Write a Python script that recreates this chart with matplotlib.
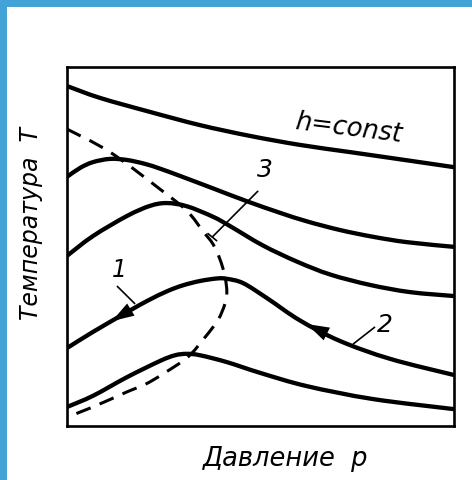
import matplotlib
matplotlib.use("Agg")
import numpy as np
import matplotlib.pyplot as plt
from matplotlib.patches import Rectangle, PathPatch
from matplotlib.path import Path

# Isenthalps (h = const) in the pressure-temperature plane, arbitrary units 0..10
p_h1 = [0, 0.85, 2.14, 3.44, 4.73, 6.02, 7.31, 8.60, 10.0]
T_h1 = [9.47, 9.14, 8.75, 8.38, 8.08, 7.83, 7.63, 7.43, 7.21]

p_h2 = [0, 0.34, 0.67, 1.11, 1.55, 2.02, 2.40, 2.91, 3.77, 4.65, 5.50, 6.20, 7.05, 7.91, 8.79, 10.0]
T_h2 = [6.94, 7.19, 7.35, 7.44, 7.41, 7.30, 7.17, 6.97, 6.62, 6.26, 5.94, 5.70, 5.46, 5.27, 5.12, 4.99]

p_h3 = [0, 0.67, 1.55, 2.14, 2.58, 3.10, 3.77, 4.21, 5.06, 5.94, 6.80, 7.83, 8.86, 10.0]
T_h3 = [4.74, 5.29, 5.85, 6.13, 6.21, 6.12, 5.83, 5.57, 5.03, 4.58, 4.22, 3.93, 3.73, 3.62]

p_h4 = [0, 0.67, 1.55, 2.10, 2.60, 3.00, 3.44, 3.88, 4.13, 4.55, 5.17, 6.02, 7.05, 8.35, 10.0]
T_h4 = [2.17, 2.62, 3.17, 3.50, 3.76, 3.92, 4.04, 4.11, 4.10, 3.98, 3.56, 2.94, 2.37, 1.87, 1.42]

p_h5 = [0, 0.67, 1.55, 2.40, 2.79, 3.10, 3.44, 4.13, 4.99, 6.20, 7.91, 10.0]
T_h5 = [0.53, 0.84, 1.36, 1.81, 1.97, 2.01, 1.97, 1.78, 1.48, 1.11, 0.75, 0.47]

# Inversion curve (dashed)
p_inv = [0, 1.11, 2.40, 3.10, 3.51, 3.77, 3.95, 4.08, 4.13, 4.08, 3.90, 3.55, 3.12, 2.48, 2.02, 1.55, 0.67, 0]
T_inv = [8.27, 7.63, 6.60, 5.99, 5.43, 5.07, 4.65, 4.18, 3.73, 3.40, 2.95, 2.45, 1.92, 1.45, 1.16, 0.95, 0.53, 0.25]

isenthalps = [(p_h1, T_h1), (p_h2, T_h2), (p_h3, T_h3), (p_h4, T_h4), (p_h5, T_h5)]

xlabel_text = "Давление  p"
ylabel_text = "Температура  T"
curve_label = "h=const"


def smooth_path(x, y):
    """Cubic Bezier path through the given points (Catmull-Rom tangents)."""
    pts = np.column_stack([x, y]).astype(float)
    n = len(pts)
    verts = [pts[0]]
    codes = [Path.MOVETO]
    for i in range(n - 1):
        p0 = pts[i - 1] if i > 0 else pts[i]
        p1, p2 = pts[i], pts[i + 1]
        p3 = pts[i + 2] if i + 2 < n else pts[i + 1]
        c1 = p1 + (p2 - p0) / 6.0
        c2 = p2 - (p3 - p1) / 6.0
        verts += [c1, c2, p2]
        codes += [Path.CURVE4] * 3
    return Path(verts, codes)


fig = plt.figure(figsize=(4.72, 4.81), dpi=100)
fig.patch.set_facecolor("white")

# blue border strips along the top and left edges
blue = "#44a3d6"
fig.add_artist(Rectangle((0, 1 - 8 / 481), 1, 8 / 481, transform=fig.transFigure,
                         facecolor=blue, edgecolor="none", zorder=0))
fig.add_artist(Rectangle((0, 0), 7 / 472, 1, transform=fig.transFigure,
                         facecolor=blue, edgecolor="none", zorder=0))

ax = fig.add_axes([67 / 472, 1 - 427 / 481, 387 / 472, 359 / 481])
ax.set_xlim(0, 10)
ax.set_ylim(0, 10)
ax.set_xticks([])
ax.set_yticks([])
for s in ax.spines.values():
    s.set_linewidth(1.9)
    s.set_color("black")

for p, T in isenthalps:
    ax.add_patch(PathPatch(smooth_path(p, T), facecolor="none", edgecolor="black",
                           lw=3.1, capstyle="butt", joinstyle="round"))

inv = PathPatch(smooth_path(p_inv, T_inv), facecolor="none", edgecolor="black",
                lw=2.2, capstyle="butt")
inv.set_linestyle((0, (5, 3.2)))
ax.add_patch(inv)

font = dict(family="DejaVu Sans", style="oblique", color="black")

ax.text(7.28, 8.32, curve_label, fontsize=18.5, rotation=-7, ha="center", va="center", **font)

# direction arrows on curve 4
arrow_kw = dict(arrowstyle="-|>,head_length=1.0,head_width=0.32", color="black",
                lw=0, shrinkA=0, shrinkB=0, mutation_scale=16)
ax.annotate("", xy=(1.16, 2.92), xytext=(1.63, 3.23), arrowprops=arrow_kw)
ax.annotate("", xy=(6.20, 2.84), xytext=(6.72, 2.56), arrowprops=arrow_kw)

# numbered callouts with leader lines
lead = dict(color="black", lw=1.2, solid_capstyle="butt")
ax.text(1.34, 4.37, "1", fontsize=17, ha="center", va="center", **font)
ax.plot([1.29, 1.76], [3.90, 3.40], **lead)

ax.text(8.22, 2.84, "2", fontsize=18, ha="center", va="center", **font)
ax.plot([7.96, 7.39], [2.76, 2.28], **lead)

ax.text(5.12, 7.15, "3", fontsize=18, ha="center", va="center", **font)
ax.plot([4.94, 3.75], [6.55, 5.26], **lead)
ax.plot([3.63, 3.88], [5.37, 5.15], **lead)

fig.text(203 / 472, 1 - 466 / 481, xlabel_text, fontsize=18.5, ha="left", va="baseline", **font)
fig.text(31 / 472, 1 - 224 / 481, ylabel_text, fontsize=17, rotation=90,
         ha="center", va="center", **font)

fig.savefig("out.png", dpi=100, facecolor="white")
